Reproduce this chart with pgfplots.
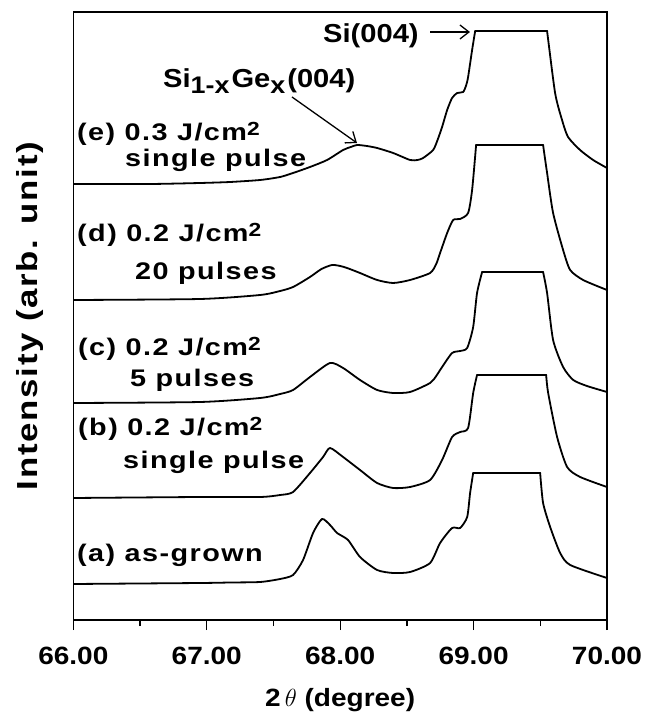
\documentclass[border=0pt]{standalone}
\usepackage{fontspec}
\setmainfont{Liberation Sans}
\newfontfamily\labfont{Liberation Sans}[FakeStretch=1.2,LetterSpace=6]
\newfontfamily\tickfont{Liberation Sans}[FakeStretch=1.12]
\usepackage{pgfplots}
\pgfplotsset{compat=1.18}
\usetikzlibrary{arrows.meta}

% label fonts (sizes in bp, 1 bp = 1 px of the reference)
\newcommand\lab{\fontsize{24bp}{28bp}\labfont\bfseries}
\newcommand\ann{\fontsize{26bp}{30bp}\tickfont\bfseries}
\newcommand\sq{\raisebox{5bp}{\fontsize{19bp}{19bp}\selectfont 2}}
\newcommand\sub[1]{\raisebox{-6bp}{\fontsize{24bp}{24bp}\selectfont #1}\hspace{2bp}}
% reference pixel -> picture coordinate
\newcommand\px[2]{({#1bp-73.3bp},{620bp-#2bp})}

\begin{document}
\begin{tikzpicture}
\useasboundingbox (-73.3bp,-95bp) rectangle (574.7bp,620bp);
\begin{axis}[
    scale only axis,
    width=533.7bp, height=608bp,
    xmin=66, xmax=70, ymin=0, ymax=608,
    xtick={66,67,68,69,70},
    minor xtick={66.5,67.5,68.5,69.5},
    ytick=\empty,
    xtick pos=bottom,
    tick align=outside,
    major tick length=10bp,
    minor tick length=6bp,
    every tick/.style={black, line width=1.3bp},
    axis line style={line width=1.5bp},
    x tick label style={/pgf/number format/.cd, fixed, fixed zerofill, precision=2,
        assume math mode=true, /tikz/.cd, yshift=-14bp,
        font={\fontsize{25bp}{30bp}\tickfont\bfseries}},
    xlabel={2\,$\theta$ (degree)},
    xlabel style={at={(axis description cs:0.5,0)}, anchor=center, yshift=-80bp,
        font={\fontsize{25bp}{30bp}\tickfont\bfseries}},
    ylabel={Intensity (arb. unit)},
    ylabel style={at={(axis description cs:-0.082,0.5)}, anchor=center,
        font={\fontsize{29bp}{34bp}\labfont\bfseries}},
    crv/.style={black, no markers, line width=1.8bp, line join=round, line cap=round, smooth, tension=0.4},
    top/.style={black, no markers, line width=1.8bp, line cap=round},
]
% (e) 0.3 J/cm2 single pulse
\addplot[crv] coordinates {
(66.0,436)(66.575,436)(66.950,437)(67.175,438)(67.400,440)(67.55,443)(67.647,447)
(67.774,453)(67.902,460)(68.022,470)(68.08,473)(68.127,475)(68.2,474)(68.277,472)
(68.397,467)(68.524,460)(68.58,460)(68.622,462)(68.697,470)(68.73,480)(68.764,493)
(68.802,510)(68.839,522)(68.877,527)(68.922,528)(68.945,535)(68.959,543)(68.989,570)
(69.012,589)};
\addplot[top] coordinates {(69.012,589)(69.551,589)};
\addplot[crv] coordinates {
(69.551,589)(69.611,527)(69.663,500)(69.708,483)(69.798,470)(69.896,460)(70.000,452)};
% (d) 0.2 J/cm2 20 pulses
\addplot[crv] coordinates {
(66.0,320)(66.950,321)(67.400,325)(67.55,329)(67.647,333)(67.774,343)(67.86,351)
(67.939,355)(68.0,354)(68.052,352)(68.149,347)(68.277,340)(68.397,337)(68.524,340)
(68.674,347)(68.72,356)(68.749,367)(68.802,387)(68.847,400)(68.899,401)(68.959,407)
(68.989,430)(69.019,475)};
\addplot[top] coordinates {(69.019,475)(69.521,475)};
\addplot[crv] coordinates {
(69.521,475)(69.551,447)(69.596,407)(69.671,370)(69.724,350)(69.821,340)(70.000,330)};
% (c) 0.2 J/cm2 5 pulses
\addplot[crv] coordinates {
(66.0,217)(66.950,218)(67.400,222)(67.55,226)(67.647,230)(67.774,243)(67.924,257)
(68.022,252)(68.149,240)(68.277,230)(68.397,227)(68.524,228)(68.674,237)(68.72,244)
(68.764,253)(68.839,267)(68.899,269)(68.952,272)(68.997,293)(69.026,327)(69.064,348)};
\addplot[top] coordinates {(69.064,348)(69.521,348)};
\addplot[crv] coordinates {
(69.521,348)(69.551,327)(69.596,280)(69.671,253)(69.747,240)(69.85,234)(70.000,228)};
% (b) 0.2 J/cm2 single pulse
\addplot[crv] coordinates {
(66.0,122)(66.950,123)(67.400,123)(67.55,125)(67.647,128)(67.774,147)(67.872,163)
(67.924,172)(68.022,163)(68.149,150)(68.277,137)(68.397,132)(68.524,133)(68.674,140)
(68.764,160)(68.839,183)(68.899,188)(68.959,192)(68.997,227)(69.026,245)};
\addplot[top] coordinates {(69.026,245)(69.544,245)};
\addplot[crv] coordinates {
(69.544,245)(69.559,227)(69.626,183)(69.701,153)(69.799,143)(70.000,133)};
% (a) as-grown
\addplot[crv] coordinates {
(66.0,36)(66.950,37)(67.175,37.5)(67.400,38)(67.55,41)(67.647,45)(67.722,60)
(67.797,87)(67.864,101)(67.924,95)(67.977,87)(68.059,80)(68.149,63)(68.277,50)
(68.397,47)(68.524,48)(68.674,57)(68.749,77)(68.839,92)(68.899,92)(68.952,103)
(68.974,127)(68.997,147)};
\addplot[top] coordinates {(68.997,147)(69.499,147)};
\addplot[crv] coordinates {
(69.499,147)(69.521,117)(69.574,93)(69.649,67)(69.724,55)(70.000,42)};
\end{axis}

\begin{scope}[every node/.style={inner sep=0pt, anchor=base west}]
\node at \px{323}{43} {\ann Si(004)};
\node at \px{163}{88} {\ann Si\sub{1-x}Ge\sub{x}(004)};
\node at \px{77}{141} {\lab (e) 0.3 J/cm\sq};
\node at \px{125}{167} {\lab single pulse};
\node at \px{77}{242} {\lab (d) 0.2 J/cm\sq};
\node at \px{135}{280} {\lab 20 pulses};
\node at \px{78}{356} {\lab (c) 0.2 J/cm\sq};
\node at \px{130}{387} {\lab 5 pulses};
\node at \px{78}{436} {\lab (b) 0.2 J/cm\sq};
\node at \px{123}{469} {\lab single pulse};
\node at \px{77}{562} {\lab (a) as-grown};
\end{scope}
\draw[-{Straight Barb[length=9bp,width=14bp]}, line width=1.3bp] \px{430}{32} -- \px{470}{32};
\draw[-{Straight Barb[length=9bp,width=14bp]}, line width=1.3bp] \px{292}{97} -- \px{357}{143};
\end{tikzpicture}
\end{document}
